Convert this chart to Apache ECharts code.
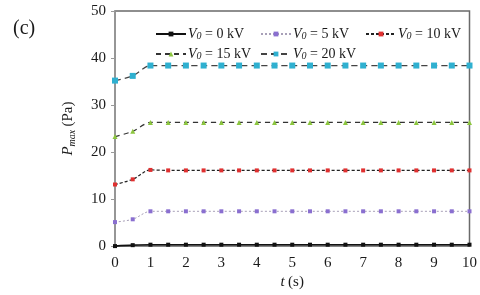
<!DOCTYPE html>
<html><head><meta charset="utf-8">
<script src="https://cdn.jsdelivr.net/npm/echarts@6/dist/echarts.min.js"></script>
<style>html,body{margin:0;padding:0;background:#fff}#c{width:480px;height:295px}</style>
</head><body><div id="c"></div>
<script>
var times = [0,0.5,1,1.5,2,2.5,3,3.5,4,4.5,5,5.5,6,6.5,7,7.5,8,8.5,9,9.5,10];
var v0_0  = [0,0.2,0.3,0.3,0.3,0.3,0.3,0.3,0.3,0.3,0.3,0.3,0.3,0.3,0.3,0.3,0.3,0.3,0.3,0.3,0.3];
var v0_5  = [5.1,5.7,7.4,7.4,7.4,7.4,7.4,7.4,7.4,7.4,7.4,7.4,7.4,7.4,7.4,7.4,7.4,7.4,7.4,7.4,7.4];
var v0_10 = [13.1,14.2,16.2,16.1,16.1,16.1,16.1,16.1,16.1,16.1,16.1,16.1,16.1,16.1,16.1,16.1,16.1,16.1,16.1,16.1,16.1];
var v0_15 = [23.3,24.4,26.3,26.3,26.3,26.3,26.3,26.3,26.3,26.3,26.3,26.3,26.3,26.3,26.3,26.3,26.3,26.3,26.3,26.3,26.3];
var v0_20 = [35.2,36.2,38.4,38.4,38.4,38.4,38.4,38.4,38.4,38.4,38.4,38.4,38.4,38.4,38.4,38.4,38.4,38.4,38.4,38.4,38.4];
var names = ['V0 = 0 kV','V0 = 5 kV','V0 = 10 kV','V0 = 15 kV','V0 = 20 kV'];
var xTicks = [0,1,2,3,4,5,6,7,8,9,10];
var yTicks = [0,10,20,30,40,50];

function pairs(arr){ return times.map(function(t,i){return [t,arr[i]];}); }
var font = '"Liberation Serif", "DejaVu Serif", serif';
var tc = '#1a1a1a';
var rich = {
  i:{fontFamily:font,fontStyle:'italic',fontSize:14,color:tc},
  s:{fontFamily:font,fontStyle:'italic',fontSize:10,color:tc,padding:[5,0,0,0]},
  n:{fontFamily:font,fontSize:14,color:tc}
};
function fmt(name){ return '{i|V}{s|0}{n|' + name.slice(2) + '}'; }

var styles = [
  {color:'#111', line:{color:'#111',width:1.6,type:'solid'}, sym:'rect', size:4},
  {color:'#8a6fd0', line:{color:'#a8a0b8',width:1,type:[2,2]}, sym:'rect', size:4},
  {color:'#e03030', line:{color:'#222',width:1.2,type:[3,2]}, sym:'rect', size:4},
  {color:'#8cc63f', line:{color:'#333',width:1.2,type:[5,4]}, sym:'triangle', size:5},
  {color:'#2fb0d0', line:{color:'#444',width:1.2,type:[6,4]}, sym:'rect', size:6}
];
var datas = [v0_0, v0_5, v0_10, v0_15, v0_20];
var series = datas.map(function(d,k){
  var s = styles[k];
  return {name:names[k], type:'line', data:pairs(d), smooth:0.3,
    symbol:s.sym, symbolSize:s.size, showSymbol:true,
    itemStyle:{color:s.color, borderWidth:0},
    lineStyle:s.line, z: 10-k};
});

var legPos = [[150,22],[255,22],[360,22],[150,42],[255,42]];
var legends = names.map(function(n,k){
  return {data:[n], left:legPos[k][0], top:legPos[k][1], itemWidth:30, itemHeight:6, itemGap:0,
    formatter:fmt, textStyle:{rich:rich, padding:[0,0,0,-3]}};
});

var chart = echarts.init(document.getElementById('c'));
chart.setOption({
  animation:false,
  backgroundColor:'#fff',
  grid:{left:115,right:10,top:11,bottom:40,show:true,borderColor:'#6a6a6a',borderWidth:1.5},
  title:{text:'(c)',left:8,top:14,textStyle:{fontFamily:font,fontSize:20,fontWeight:'normal',color:tc}},
  legend:legends,
  xAxis:{type:'value', min:0, max:10, interval:1,
    name:'{i|t} {n|(s)}', nameLocation:'middle', nameGap:27,
    nameTextStyle:{rich:{i:{fontFamily:font,fontStyle:'italic',fontSize:15,color:tc},n:{fontFamily:font,fontSize:15,color:tc}}},
    axisLine:{show:true,onZero:false,lineStyle:{color:'#888',width:1}},
    axisTick:{show:false}, splitLine:{show:false},
    axisLabel:{fontFamily:font,fontSize:15,color:tc,margin:9,
      formatter:function(v){return xTicks.indexOf(v)>=0?String(v):'';}}},
  yAxis:{type:'value', min:0, max:50, interval:10,
    name:'{i|P}{s|max} {n|(Pa)}', nameLocation:'middle', nameGap:38, nameRotate:90,
    nameTextStyle:{rich:{i:{fontFamily:font,fontStyle:'italic',fontSize:15,color:tc},
      s:{fontFamily:font,fontStyle:'italic',fontSize:10,color:tc,padding:[7,0,0,0]},
      n:{fontFamily:font,fontSize:15,color:tc}}},
    axisLine:{show:true,lineStyle:{color:'#999',width:1.5}},
    axisTick:{show:true,length:4,lineStyle:{color:'#999'}}, splitLine:{show:false},
    axisLabel:{fontFamily:font,fontSize:15,color:tc,margin:9,
      formatter:function(v){return yTicks.indexOf(v)>=0?String(v):'';}}},
  series:series
});
</script></body></html>
